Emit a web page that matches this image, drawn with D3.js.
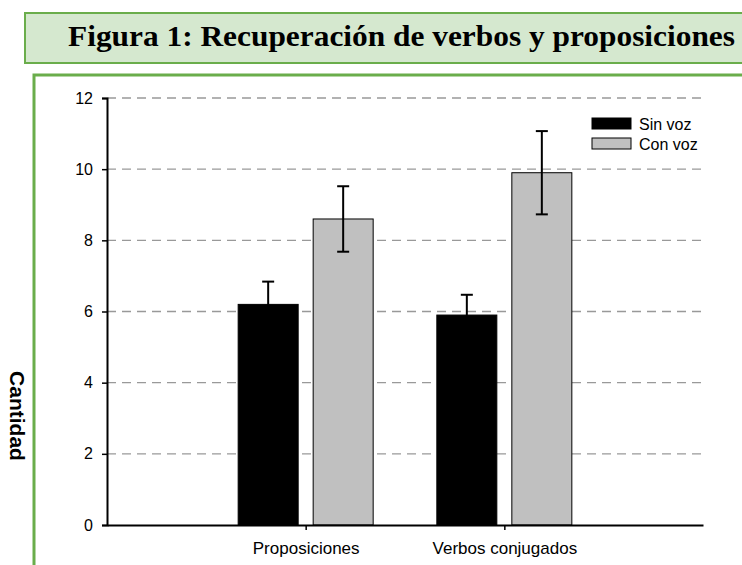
<!DOCTYPE html>
<html>
<head>
<meta charset="utf-8">
<script src="https://cdn.jsdelivr.net/npm/d3@7"></script>
<style>
  body { margin: 0; background: #fff; }
  svg { display: block; }
</style>
</head>
<body>
<svg id="chart" width="742" height="565"></svg>
<script>
var categories = ['Proposiciones', 'Verbos conjugados']
var seriesNames = ['Sin voz', 'Con voz']
var seriesColors = ['#000000', '#c0c0c0']
var sinVoz = [6.2, 5.9]
var conVoz = [8.6, 9.9]
var sinVozErr = [0.64, 0.57]
var conVozErr = [0.92, 1.17]
var yTicks = [0, 2, 4, 6, 8, 10, 12]

var svg = d3.select('#chart')

// title box
svg.append('rect')
  .attr('x', 25).attr('y', 13).attr('width', 730).attr('height', 50)
  .attr('fill', '#d5e8cf').attr('stroke', '#6aad4b').attr('stroke-width', 2)
svg.append('text')
  .attr('x', 68).attr('y', 46)
  .attr('textLength', 667).attr('lengthAdjust', 'spacingAndGlyphs')
  .style('font-family', '"Liberation Serif", "Times New Roman", serif')
  .style('font-weight', 'bold')
  .style('font-size', '29px')
  .text('Figura 1: Recuperación de verbos y proposiciones')

// chart box
svg.append('rect')
  .attr('x', 34).attr('y', 75).attr('width', 730).attr('height', 520)
  .attr('fill', '#fff').attr('stroke', '#6aad4b').attr('stroke-width', 3)

var plotLeft = 107, plotRight = 703, plotTop = 98, plotBottom = 525

var x = d3.scaleLinear().domain([0, 3]).range([plotLeft, plotRight])
var y = d3.scaleLinear().domain([0, 12]).range([plotBottom, plotTop])

var g = svg.append('g')

// grid
g.selectAll('.grid')
  .data(yTicks.filter(d => d > 0))
  .enter().append('line')
  .attr('x1', plotLeft).attr('x2', plotRight)
  .attr('y1', d => y(d)).attr('y2', d => y(d))
  .attr('stroke', '#999').attr('stroke-width', 1.3)
  .attr('stroke-dasharray', '9,6')

// bars
var barW = 60, gap = 15
var series = [
  { name: seriesNames[0], vals: sinVoz, err: sinVozErr, color: seriesColors[0], off: -gap / 2 - barW },
  { name: seriesNames[1], vals: conVoz, err: conVozErr, color: seriesColors[1], off: gap / 2 }
]

series.forEach(function(s) {
  g.selectAll(null)
    .data(s.vals)
    .enter().append('rect')
    .attr('x', (d, i) => x(i + 1) + s.off)
    .attr('y', d => y(d))
    .attr('width', barW)
    .attr('height', d => y(0) - y(d))
    .attr('fill', s.color)
    .attr('stroke', '#000').attr('stroke-width', 1)
})

// error bars
series.forEach(function(s) {
  s.vals.forEach(function(v, i) {
    var cx = x(i + 1) + s.off + barW / 2
    var eb = g.append('g')
    eb.append('line')
      .attr('x1', cx).attr('x2', cx)
      .attr('y1', y(v - s.err[i])).attr('y2', y(v + s.err[i]))
      .attr('stroke', '#000').attr('stroke-width', 2)
    ;[v - s.err[i], v + s.err[i]].forEach(function(e) {
      eb.append('line')
        .attr('x1', cx - 6).attr('x2', cx + 6)
        .attr('y1', y(e)).attr('y2', y(e))
        .attr('stroke', '#000').attr('stroke-width', 2)
    })
  })
})

// axes
var yAxis = g.append('g')
  .attr('transform', 'translate(' + plotLeft + ',0)')
  .call(d3.axisLeft(y).tickValues(yTicks).tickSize(5).tickPadding(9))
var xAxis = g.append('g')
  .attr('transform', 'translate(0,' + plotBottom + ')')
  .call(d3.axisBottom(x).tickValues([1, 2]).tickFormat(d => categories[d - 1]).tickSizeInner(5).tickSizeOuter(0).tickPadding(12))

;[yAxis, xAxis].forEach(function(a) {
  a.select('.domain').attr('stroke', '#000').attr('stroke-width', 2)
  a.selectAll('.tick line').attr('stroke', '#000').attr('stroke-width', 1.5)
  a.selectAll('text')
    .attr('fill', '#000')
    .style('font-family', '"Liberation Sans", Arial, sans-serif')
    .style('font-size', '16px')
})
xAxis.selectAll('text').style('font-size', '17px')

// y label
svg.append('text')
  .attr('transform', 'translate(10,416) rotate(90)')
  .attr('text-anchor', 'middle')
  .style('font-family', '"Liberation Sans", Arial, sans-serif')
  .style('font-weight', 'bold')
  .style('font-size', '21px')
  .text('Cantidad')

// legend
var legend = svg.append('g').attr('transform', 'translate(592,118)')
seriesNames.forEach(function(n, i) {
  legend.append('rect')
    .attr('x', 0).attr('y', i * 20)
    .attr('width', 39).attr('height', 11)
    .attr('fill', seriesColors[i]).attr('stroke', '#000').attr('stroke-width', 1)
  legend.append('text')
    .attr('x', 47).attr('y', i * 20 + 12)
    .style('font-family', '"Liberation Sans", Arial, sans-serif')
    .style('font-size', '16px')
    .text(n)
})
</script>
</body>
</html>
